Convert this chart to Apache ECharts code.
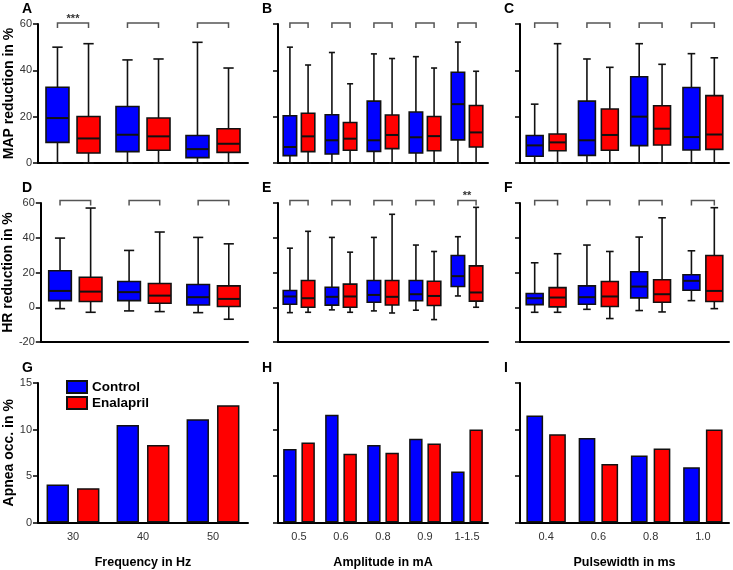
<!DOCTYPE html>
<html><head><meta charset="utf-8">
<script src="https://cdn.jsdelivr.net/npm/echarts@6/dist/echarts.min.js"></script>
<style>html,body{margin:0;padding:0;background:#fff}#c{width:733px;height:570px}</style>
</head><body><div id="c"></div>
<script>
// ---------- categories ----------
const freqCats = ['30', '40', '50'];
const ampCats = ['0.5', '0.6', '0.8', '0.9', '1-1.5'];
const pwCats = ['0.4', '0.6', '0.8', '1.0'];

// ---------- box plot values: [min, Q1, median, Q3, max] ----------
const mapFreqControl   = [[0, 8.9, 19.4, 32.7, 50.0], [0, 4.9, 12.2, 24.4, 44.5], [0, 2.3, 6.0, 11.9, 52.1]];
const mapFreqEnalapril = [[0, 4.3, 10.6, 20.1, 51.5], [0, 5.5, 11.5, 19.4, 44.9], [0, 4.6, 8.3, 14.8, 41.0]];
const mapAmpControl    = [[0, 3.2, 6.9, 20.4, 50.0], [0, 3.9, 9.8, 20.8, 47.7], [0, 5.0, 9.8, 26.7, 47.1], [0, 4.3, 11.1, 22.0, 45.9], [0, 10.0, 25.4, 39.2, 52.2]];
const mapAmpEnalapril  = [[0, 4.9, 11.5, 21.5, 42.3], [0, 5.5, 10.5, 17.5, 34.2], [0, 6.2, 12.1, 20.7, 45.1], [0, 5.3, 11.6, 20.1, 41.0], [0, 6.9, 13.2, 24.8, 39.6]];
const mapPwControl     = [[0, 2.9, 7.6, 11.9, 25.4], [0, 3.3, 9.8, 26.7, 44.9], [0, 7.5, 20.0, 37.2, 51.5], [0, 5.6, 11.2, 32.6, 47.2]];
const mapPwEnalapril   = [[0, 5.3, 8.9, 12.5, 51.5], [0, 5.5, 12.1, 23.3, 41.3], [0, 7.8, 14.8, 24.7, 42.6], [0, 5.9, 12.3, 29.1, 45.4]];

const hrFreqControl    = [[-0.8, 3.8, 9.4, 21.0, 39.8], [-2.1, 3.8, 8.7, 14.8, 32.7], [-3.1, 1.3, 5.8, 13.1, 40.2]];
const hrFreqEnalapril  = [[-2.9, 3.3, 9.0, 17.3, 57.1], [-2.5, 2.3, 6.7, 13.7, 43.3], [-6.9, 0.4, 4.8, 12.3, 36.5]];
const hrAmpControl     = [[-3.1, 1.7, 6.2, 9.6, 34.0], [-1.5, 1.2, 6.0, 11.5, 40.2], [-2.1, 2.9, 7.1, 15.4, 40.2], [-1.7, 3.7, 7.5, 15.4, 35.8], [6.5, 11.9, 17.9, 29.8, 40.6]];
const hrAmpEnalapril   = [[-2.9, 0.0, 5.2, 15.4, 43.7], [-2.9, 0.0, 6.2, 13.3, 31.7], [-3.3, 1.3, 6.0, 15.4, 53.5], [-7.1, 1.0, 6.5, 15.0, 32.1], [0.0, 3.5, 8.5, 23.8, 57.5]];
const hrPwControl      = [[-2.9, 1.5, 5.2, 7.9, 25.6], [-1.2, 1.7, 5.8, 12.3, 35.8], [-1.9, 5.4, 11.9, 20.4, 40.4], [3.8, 9.8, 15.2, 18.7, 32.5]];
const hrPwEnalapril    = [[-2.9, 0.2, 5.6, 11.3, 30.8], [-6.5, 0.4, 6.2, 14.8, 32.1], [-2.7, 2.9, 7.5, 15.8, 51.5], [-0.8, 3.3, 9.4, 29.8, 57.3]];

// ---------- apnea occurrence (bars) ----------
const apneaFreqControl   = [4.1, 10.5, 11.1];
const apneaFreqEnalapril = [3.7, 8.35, 12.6];
const apneaAmpControl    = [7.9, 11.6, 8.35, 9.0, 5.5];
const apneaAmpEnalapril  = [8.6, 7.4, 7.5, 8.5, 10.0];
const apneaPwControl     = [11.5, 9.1, 7.2, 5.95];
const apneaPwEnalapril   = [9.5, 6.3, 7.95, 10.0];

// ---------- significance markers ----------
const sigMapFreq = ['***', '', ''];
const sigMapAmp  = ['', '', '', '', ''];
const sigMapPw   = ['', '', '', ''];
const sigHrFreq  = ['', '', ''];
const sigHrAmp   = ['', '', '', '', '**'];
const sigHrPw    = ['', '', '', ''];

// ---------- tick settings ----------
const mapTicks = {min: 0, max: 60, interval: 20};
const hrTicks = {min: -20, max: 60, interval: 20};
const apneaTicks = {min: 0, max: 15, interval: 5};

const yTitles = ['MAP reduction in %', 'HR reduction in %', 'Apnea occ. in %'];
const xTitles = ['Frequency in Hz', 'Amplitude in mA', 'Pulsewidth in ms'];
const panelLetters = ['A', 'B', 'C', 'D', 'E', 'F', 'G', 'H', 'I'];
const seriesNames = ['Control', 'Enalapril'];

const BLUE = '#0000ff', RED = '#ff0000';
const FONT = '"Liberation Sans", Arial, Helvetica, sans-serif';

const cols = [{left: 38, width: 210}, {left: 278, width: 210}, {left: 520, width: 209}];
const rows = [{top: 24, height: 139}, {top: 203, height: 139}, {top: 383, height: 139.6}];
const catsByCol = [freqCats, ampCats, pwCats];
const ticksByRow = [mapTicks, hrTicks, apneaTicks];

function layoutBox(band) {
  const avail = band * 0.8 - 2;
  const gap = avail / 2 * 0.3;
  const bw = (avail - gap) / 2;
  const off0 = bw / 2 - avail / 2;
  return {bw: bw, offs: [off0, off0 + gap + bw]};
}

function boxRenderer(slot, color) {
  return function (params, api) {
    const x = api.value(0);
    const band = api.size([1, 0])[0];
    const L = layoutBox(band);
    const bw = L.bw;
    const cx = api.coord([x, 0])[0] + L.offs[slot];
    const yy = k => api.coord([x, api.value(k)])[1];
    const ymin = yy(1), q1 = yy(2), med = yy(3), q3 = yy(4), ymax = yy(5);
    const cap = bw * 0.45 / 2;
    const ls = {stroke: '#111', lineWidth: 1.6};
    return {type: 'group', children: [
      {type: 'line', shape: {x1: cx, y1: q3, x2: cx, y2: ymax}, style: ls},
      {type: 'line', shape: {x1: cx, y1: q1, x2: cx, y2: ymin}, style: ls},
      {type: 'line', shape: {x1: cx - cap, y1: ymax, x2: cx + cap, y2: ymax}, style: ls},
      {type: 'line', shape: {x1: cx - cap, y1: ymin, x2: cx + cap, y2: ymin}, style: ls},
      {type: 'rect', shape: {x: cx - bw / 2, y: q3, width: bw, height: q1 - q3}, style: {fill: color, stroke: '#111', lineWidth: 1.6}},
      {type: 'line', shape: {x1: cx - bw / 2, y1: med, x2: cx + bw / 2, y2: med}, style: {stroke: '#111', lineWidth: 2}}
    ]};
  };
}

function bracketRenderer(labels, lift) {
  return function (params, api) {
    const x = api.value(0);
    const band = api.size([1, 0])[0];
    const L = layoutBox(band);
    const c = api.coord([x, api.value(1)]);
    const yb = c[1] - lift;
    const x1 = c[0] + L.offs[0], x2 = c[0] + L.offs[1];
    const children = [{
      type: 'polyline',
      shape: {points: [[x1, yb + 5], [x1, yb], [x2, yb], [x2, yb + 5]]},
      style: {stroke: '#555', lineWidth: 1.5, fill: null}
    }];
    const lab = labels[params.dataIndex];
    if (lab) {
      children.push({type: 'text', x: c[0], y: yb + 1,
        style: {text: lab, align: 'center', verticalAlign: 'bottom', font: 'bold 11px ' + FONT, fill: '#333'}});
    }
    return {type: 'group', children: children};
  };
}

const grids = [], xAxes = [], yAxes = [], series = [], graphics = [];
for (let r = 0; r < 3; r++) {
  for (let c = 0; c < 3; c++) {
    const g = r * 3 + c;
    grids.push({left: cols[c].left, width: cols[c].width, top: rows[r].top, height: rows[r].height, containLabel: false});
    xAxes.push({
      type: 'category', gridIndex: g, data: catsByCol[c],
      axisLine: {onZero: false, lineStyle: {color: '#000', width: 2}},
      axisTick: {alignWithLabel: true, length: 5, lineStyle: {color: '#000', width: 1.5}},
      axisLabel: {show: r === 2, color: '#333', fontSize: 11, margin: 9, fontFamily: FONT},
      splitLine: {show: false},
      name: r === 2 ? xTitles[c] : '', nameLocation: 'middle', nameGap: 33,
      nameTextStyle: {fontWeight: 'bold', fontSize: 12.5, color: '#000', fontFamily: FONT}
    });
    const t = ticksByRow[r];
    yAxes.push({
      type: 'value', gridIndex: g, min: t.min, max: t.max, interval: t.interval,
      axisLine: {show: true, lineStyle: {color: '#000', width: 2}},
      axisTick: {show: true, length: 5, lineStyle: {color: '#000', width: 1.5}},
      axisLabel: {show: c === 0, color: '#333', fontSize: 11, margin: 6, fontFamily: FONT},
      splitLine: {show: false},
      name: c === 0 ? yTitles[r] : '', nameLocation: 'middle', nameRotate: 90, nameGap: 17,
      nameTextStyle: {fontWeight: 'bold', fontSize: 14, color: '#000', fontFamily: FONT}
    });
    graphics.push({type: 'text', left: cols[c].left - 16, top: rows[r].top - 22,
      style: {text: panelLetters[g], font: 'bold 14px ' + FONT, fill: '#000'}});
  }
}

const boxData = [
  [mapFreqControl, mapFreqEnalapril, sigMapFreq], [mapAmpControl, mapAmpEnalapril, sigMapAmp], [mapPwControl, mapPwEnalapril, sigMapPw],
  [hrFreqControl, hrFreqEnalapril, sigHrFreq], [hrAmpControl, hrAmpEnalapril, sigHrAmp], [hrPwControl, hrPwEnalapril, sigHrPw]
];
boxData.forEach(function (set, g) {
  const r = Math.floor(g / 3);
  [0, 1].forEach(function (slot) {
    series.push({
      type: 'custom', name: seriesNames[slot] + ' box ' + g, xAxisIndex: g, yAxisIndex: g,
      coordinateSystem: 'cartesian2d',
      data: set[slot].map((d, i) => [i].concat(d)),
      encode: {x: 0, y: [1, 2, 3, 4, 5]},
      renderItem: boxRenderer(slot, slot === 0 ? BLUE : RED),
      clip: false, z: 3
    });
  });
  series.push({
    type: 'custom', name: 'brackets ' + g, xAxisIndex: g, yAxisIndex: g,
    coordinateSystem: 'cartesian2d',
    data: set[2].map((s, i) => [i, ticksByRow[r].max]),
    encode: {x: 0, y: 1},
    renderItem: bracketRenderer(set[2], r === 0 ? 1 : 2.5),
    clip: false, silent: true, z: 3
  });
});

const barData = [[apneaFreqControl, apneaFreqEnalapril], [apneaAmpControl, apneaAmpEnalapril], [apneaPwControl, apneaPwEnalapril]];
barData.forEach(function (pair, c) {
  const g = 6 + c;
  [0, 1].forEach(function (slot) {
    series.push({
      type: 'bar', name: seriesNames[slot], xAxisIndex: g, yAxisIndex: g,
      data: pair[slot], barWidth: '32%', barGap: '36%',
      itemStyle: {color: slot === 0 ? BLUE : RED, borderColor: '#111', borderWidth: 1.5},
      z: 3
    });
  });
});

const chart = echarts.init(document.getElementById('c'), null, {renderer: 'canvas'});
chart.setOption({
  animation: false,
  backgroundColor: '#fff',
  textStyle: {fontFamily: FONT},
  grid: grids, xAxis: xAxes, yAxis: yAxes, series: series,
  legend: {
    data: seriesNames, orient: 'vertical', left: 66, top: 380, padding: 0,
    itemWidth: 20, itemHeight: 12, itemGap: 2, icon: 'rect',
    textStyle: {fontWeight: 'bold', fontSize: 13.5, color: '#000', fontFamily: FONT},
    selectedMode: false
  },
  graphic: graphics
});
</script>
</body></html>
